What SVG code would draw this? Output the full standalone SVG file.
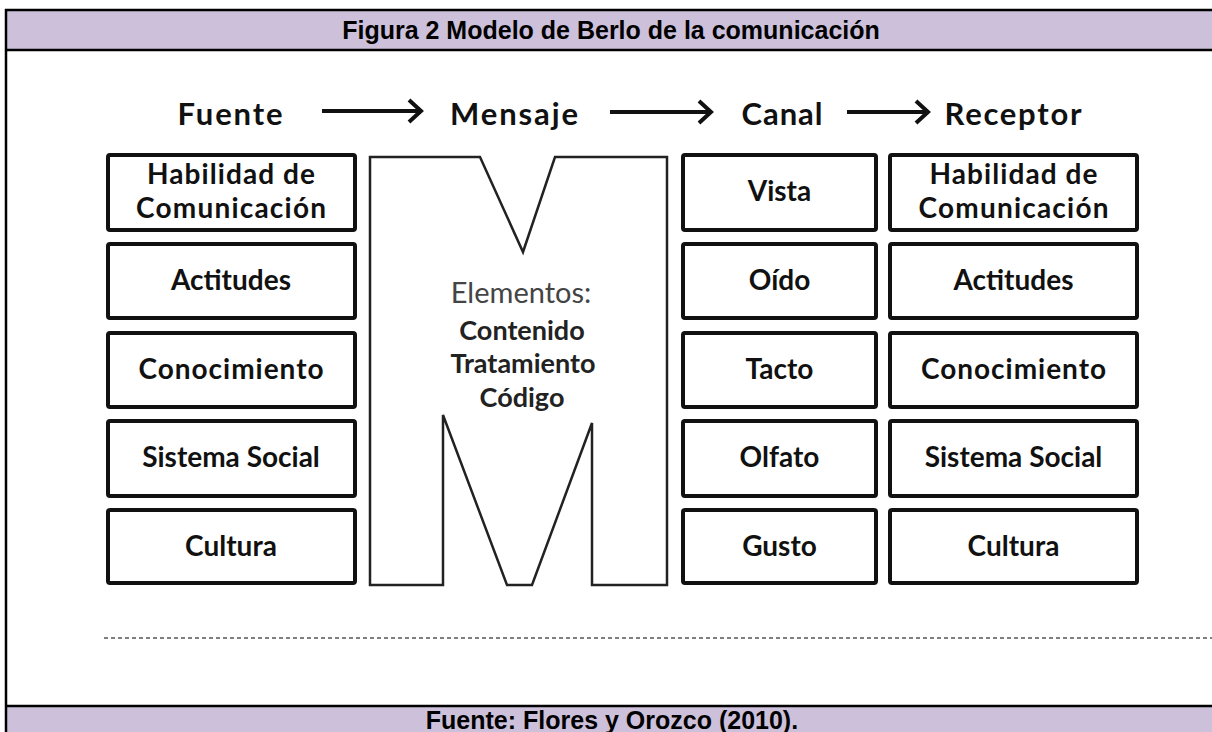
<svg xmlns="http://www.w3.org/2000/svg" width="1212" height="732" viewBox="0 0 1212 732">
<style>
.band{fill:#ccc0da}
.rule{stroke:#000;stroke-width:2.5;fill:none}
.cap{font-family:"Liberation Sans",Arial,sans-serif;font-weight:bold;font-size:25px;fill:#000;text-anchor:middle}
.head{font-family:Lato,"Open Sans",sans-serif;font-weight:bold;font-size:31px;fill:#111;text-anchor:middle}
.box{fill:#fff;stroke:#111;stroke-width:4}
.lbl{font-family:Lato,"Open Sans",sans-serif;font-weight:bold;font-size:28px;fill:#111;text-anchor:middle}
.arrow{stroke:#111;stroke-width:4;fill:none;stroke-linejoin:miter}
.m{fill:#fff;stroke:#222;stroke-width:2.5;stroke-linejoin:miter}
.el{font-family:Lato,"Open Sans",sans-serif;font-size:29px;fill:#444;text-anchor:middle}
.mb{font-family:Lato,"Open Sans",sans-serif;font-weight:bold;font-size:27px;fill:#222;text-anchor:middle}
</style>
<rect width="1212" height="732" fill="#fff"/>
<g id="frame">
<rect class="band" x="6" y="10" width="1206" height="40"/>
<rect class="band" x="6" y="706" width="1206" height="26"/>
<line class="rule" x1="5" y1="10" x2="1212" y2="10"/>
<line class="rule" x1="5" y1="50" x2="1212" y2="50"/>
<line class="rule" x1="5" y1="706" x2="1212" y2="706"/>
<line class="rule" x1="6" y1="9" x2="6" y2="732"/>
<text class="cap" x="611" y="39">Figura 2 Modelo de Berlo de la comunicación</text>
<text class="cap" x="612" y="729">Fuente: Flores y Orozco (2010).</text>
<line x1="104" y1="638" x2="1212" y2="638" stroke="#555" stroke-width="1.5" stroke-dasharray="4 3"/>
</g>
<g id="headings">
<text class="head" x="230" y="125" textLength="105">Fuente</text>
<text class="head" x="514" y="125" textLength="128">Mensaje</text>
<text class="head" x="782" y="125" textLength="81">Canal</text>
<text class="head" x="1013" y="125" textLength="137">Receptor</text>
</g>
<g id="connectors">
<path class="arrow" d="M322 111H420M409 100L421 111L409 122"/>
<path class="arrow" d="M610 112H710M699 101L711 112L699 123"/>
<path class="arrow" d="M847 112H927M916 101L928 112L916 123"/>
</g>
<g id="fuente">
<rect class="box" x="108" y="155" width="247" height="75" rx="2"/>
<text class="lbl" x="231" y="184" textLength="168">Habilidad de</text>
<text class="lbl" x="231" y="218" textLength="190">Comunicación</text>
<rect class="box" x="108" y="244" width="247" height="74" rx="2"/>
<text class="lbl" x="231" y="290">Actitudes</text>
<rect class="box" x="108" y="333" width="247" height="74" rx="2"/>
<text class="lbl" x="231" y="379" textLength="185">Conocimiento</text>
<rect class="box" x="108" y="421" width="247" height="75" rx="2"/>
<text class="lbl" x="231" y="467">Sistema Social</text>
<rect class="box" x="108" y="510" width="247" height="73" rx="2"/>
<text class="lbl" x="231" y="556">Cultura</text>
</g>
<g id="mensaje">
<path class="m" d="M370 157H480L523 252L555 157H667V585H592V423L532 585H507L443 415V585H370Z"/>
<text class="el" x="521" y="303">Elementos:</text>
<text class="mb" x="522" y="340">Contenido</text>
<text class="mb" x="523" y="373">Tratamiento</text>
<text class="mb" x="522" y="407">Código</text>
</g>
<g id="canal">
<rect class="box" x="683" y="155" width="193" height="75" rx="2"/>
<text class="lbl" x="779.5" y="201">Vista</text>
<rect class="box" x="683" y="244" width="193" height="74" rx="2"/>
<text class="lbl" x="779.5" y="290">Oído</text>
<rect class="box" x="683" y="333" width="193" height="74" rx="2"/>
<text class="lbl" x="779.5" y="379">Tacto</text>
<rect class="box" x="683" y="421" width="193" height="75" rx="2"/>
<text class="lbl" x="779.5" y="467">Olfato</text>
<rect class="box" x="683" y="510" width="193" height="73" rx="2"/>
<text class="lbl" x="779.5" y="556">Gusto</text>
</g>
<g id="receptor">
<rect class="box" x="890" y="155" width="247" height="75" rx="2"/>
<text class="lbl" x="1013.5" y="184" textLength="168">Habilidad de</text>
<text class="lbl" x="1013.5" y="218" textLength="190">Comunicación</text>
<rect class="box" x="890" y="244" width="247" height="74" rx="2"/>
<text class="lbl" x="1013.5" y="290">Actitudes</text>
<rect class="box" x="890" y="333" width="247" height="74" rx="2"/>
<text class="lbl" x="1013.5" y="379" textLength="185">Conocimiento</text>
<rect class="box" x="890" y="421" width="247" height="75" rx="2"/>
<text class="lbl" x="1013.5" y="467">Sistema Social</text>
<rect class="box" x="890" y="510" width="247" height="73" rx="2"/>
<text class="lbl" x="1013.5" y="556">Cultura</text>
</g>
</svg>
